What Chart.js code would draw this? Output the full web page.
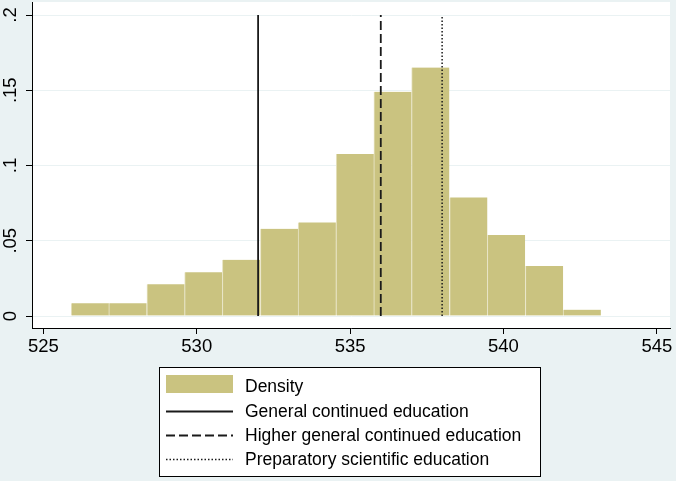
<!DOCTYPE html>
<html>
<head>
<meta charset="utf-8">
<script src="https://cdn.jsdelivr.net/npm/chart.js@4/dist/chart.umd.min.js"></script>
<style>
  html, body { margin: 0; padding: 0; background: #eaf2f3; }
  #box { width: 676px; height: 481px; }
</style>
</head>
<body>
<div id="box"><canvas id="myChart" width="676" height="481"></canvas></div>
<script>
'use strict';

// histogram bins (bin centres) and densities
var binCenters = [526.52, 527.75, 528.99, 530.22, 531.45, 532.69, 533.92,
                  535.16, 536.39, 537.62, 538.86, 540.09, 541.33, 542.56];
var density = [0.0084, 0.0084, 0.0211, 0.0290, 0.0374, 0.0580, 0.0622,
               0.1076, 0.1490, 0.1651, 0.0788, 0.0538, 0.0332, 0.0042];

// reference lines
var refLabels = ['General continued education',
                 'Higher general continued education',
                 'Preparatory scientific education'];
var refValues = [532, 536, 538];

var xTicks = [525, 530, 535, 540, 545];
var yTicks = [0, 0.05, 0.1, 0.15, 0.2];

var FONT = '"Liberation Sans", Arial, sans-serif';
var OUTER = '#eaf2f3';

function tickLabel(v){
  if (v === 0) return '0';
  return String(v).replace(/^0/, '');
}

// plot region background + hand drawn Stata style legend
var stataLook = {
  id: 'stataLook',
  beforeDraw: function(chart){
    var c = chart.ctx, a = chart.chartArea;
    c.save();
    c.fillStyle = OUTER;
    c.fillRect(0, 0, chart.width, chart.height);
    c.fillStyle = '#ffffff';
    c.fillRect(a.left, a.top, a.right - a.left, a.bottom - a.top);
    c.restore();
  },
  afterDraw: function(chart){
    var c = chart.ctx;
    var ds = chart.data.datasets;
    c.save();
    c.fillStyle = '#ffffff';
    c.fillRect(159, 367, 382, 110);
    c.strokeStyle = '#000';
    c.lineWidth = 1;
    c.strokeRect(159.5, 367.5, 381, 109);

    var base = [391.5, 416.5, 440.5, 464.5];
    c.font = '17.5px ' + FONT;
    c.fillStyle = '#000';
    c.textBaseline = 'alphabetic';
    for (var i = 0; i < ds.length; i++){
      var d = ds[i];
      if (d.type === 'bar'){
        c.fillStyle = d.backgroundColor;
        c.fillRect(166, 375, 67, 18);
      } else {
        c.beginPath();
        c.strokeStyle = d.borderColor;
        c.lineWidth = d.borderWidth;
        c.setLineDash(d.borderDash || []);
        c.moveTo(166, base[i] - 5);
        c.lineTo(233, base[i] - 5);
        c.stroke();
        c.setLineDash([]);
      }
      c.fillStyle = '#000';
      c.fillText(d.label, 245, base[i]);
    }
    c.restore();
  }
};

var lineStyles = [
  { dash: [], width: 1.8 },
  { dash: [9, 4], width: 1.8 },
  { dash: [1.5, 2], width: 1.5 }
];

var datasets = [{
  type: 'bar',
  label: 'Density',
  data: binCenters.map(function(x, i){ return { x: x, y: density[i] }; }),
  backgroundColor: 'rgb(202,195,128)',
  borderColor: 'rgb(232,228,196)',
  borderWidth: { left: 1, right: 0, top: 0, bottom: 0 },
  borderSkipped: false,
  barPercentage: 1,
  categoryPercentage: 1,
  order: 2
}];

refValues.forEach(function(v, i){
  datasets.push({
    type: 'line',
    label: refLabels[i],
    data: [{ x: v, y: 0 }, { x: v, y: 0.2 }],
    borderColor: '#1a1a1a',
    borderWidth: lineStyles[i].width,
    borderDash: lineStyles[i].dash,
    pointRadius: 0,
    fill: false,
    order: 1
  });
});

var ctx = document.getElementById('myChart');

var chart = new Chart(ctx, {
  type: 'bar',
  data: { datasets: datasets },
  plugins: [stataLook],
  options: {
    responsive: false,
    animation: false,
    events: [],
    devicePixelRatio: 1,
    layout: {
      autoPadding: false,
      padding: { left: 0, top: 2, right: 6, bottom: 113 }
    },
    plugins: {
      legend: { display: false },
      tooltip: { enabled: false }
    },
    scales: {
      x: {
        type: 'linear',
        min: 524.628,
        max: 545.430,
        offset: false,
        afterBuildTicks: function(s){ s.ticks = xTicks.map(function(v){ return { value: v }; }); },
        afterFit: function(s){ s.height = 40; s.paddingLeft = 0; s.paddingRight = 0; },
        grid: { drawOnChartArea: false, tickLength: 6, tickColor: '#000', offset: false },
        border: { display: true, color: '#000', width: 1 },
        ticks: {
          autoSkip: false,
          maxRotation: 0,
          padding: 2,
          color: '#000',
          font: { family: FONT, size: 18.5 },
          callback: function(v){ return String(v); }
        }
      },
      y: {
        type: 'linear',
        min: -0.007973,
        max: 0.208638,
        afterBuildTicks: function(s){ s.ticks = yTicks.map(function(v){ return { value: v }; }); },
        afterFit: function(s){ s.width = 32; s.paddingTop = 0; s.paddingBottom = 0; },
        grid: { color: OUTER, lineWidth: 1, tickLength: 6, tickColor: '#000' },
        border: { display: true, color: '#000', width: 1 },
        ticks: {
          autoSkip: false,
          minRotation: 90,
          maxRotation: 90,
          crossAlign: 'center',
          padding: 2,
          color: '#000',
          font: { family: FONT, size: 18.5 },
          callback: tickLabel
        }
      }
    }
  }
});
</script>
</body>
</html>
